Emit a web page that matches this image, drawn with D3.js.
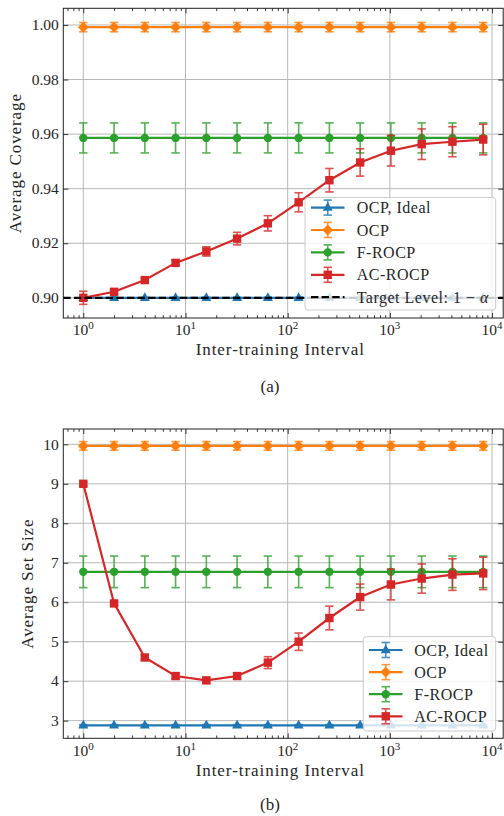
<!DOCTYPE html>
<html><head><meta charset="utf-8">
<script src="https://cdn.jsdelivr.net/npm/d3@7"></script>
<style>
body{margin:0;background:#fff}
svg{display:block}
text{font-family:"Liberation Serif","Times New Roman",serif;fill:#262626}
</style>
</head><body><svg id="c" width="504" height="816" font-family="Liberation Serif, serif"></svg>
<script>
// ---------------- data ----------------
const intervals = [1,2,4,8,16,32,64,128,256,512,1024,2048,4096,8192];
const seriesNames = ["OCP, Ideal","OCP","F-ROCP","AC-ROCP"];
const seriesColors = ["#1f77b4","#ff7f0e","#2ca02c","#d62728"];
const seriesMarkers = ["triangle","diamond","circle","square"];

// Panel (a): average coverage
const covIdeal    = [0.900,0.900,0.900,0.900,0.900,0.900,0.900,0.900,0.900,0.900,0.900,0.900,0.900,0.900];
const covIdealErr = [0.0002,0.0002,0.0002,0.0002,0.0002,0.0002,0.0002,0.0002,0.0002,0.0002,0.0002,0.0002,0.0002,0.0002];
const covOCP      = [0.9992,0.9992,0.9992,0.9992,0.9992,0.9992,0.9992,0.9992,0.9992,0.9992,0.9992,0.9992,0.9992,0.9992];
const covOCPErr   = [0.0017,0.0017,0.0017,0.0017,0.0017,0.0017,0.0017,0.0017,0.0017,0.0017,0.0017,0.0017,0.0017,0.0017];
const covFROCP    = [0.9586,0.9586,0.9586,0.9586,0.9586,0.9586,0.9586,0.9586,0.9586,0.9586,0.9586,0.9586,0.9586,0.9586];
const covFROCPErr = [0.0055,0.0055,0.0055,0.0055,0.0055,0.0055,0.0055,0.0055,0.0055,0.0055,0.0055,0.0055,0.0055,0.0055];
const covACROCP   = [0.9000,0.9022,0.9065,0.9128,0.9170,0.9217,0.9273,0.9350,0.9431,0.9496,0.9539,0.9563,0.9572,0.9580];
const covACROCPErr= [0.0024,0.0010,0.0008,0.0010,0.0017,0.0023,0.0028,0.0035,0.0043,0.0050,0.0056,0.0056,0.0055,0.0056];
const targetLevel = 0.90;
const covTicks = [0.90,0.92,0.94,0.96,0.98,1.00];
const covDomain = [0.8926,1.0061];

// Panel (b): average set size
const sizeIdeal    = [2.88,2.88,2.88,2.88,2.88,2.88,2.88,2.88,2.88,2.88,2.88,2.88,2.88,2.88];
const sizeIdealErr = [0.02,0.02,0.02,0.02,0.02,0.02,0.02,0.02,0.02,0.02,0.02,0.02,0.02,0.02];
const sizeOCP      = [9.96,9.96,9.96,9.96,9.96,9.96,9.96,9.96,9.96,9.96,9.96,9.96,9.96,9.96];
const sizeOCPErr   = [0.11,0.11,0.11,0.11,0.11,0.11,0.11,0.11,0.11,0.11,0.11,0.11,0.11,0.11];
const sizeFROCP    = [6.77,6.77,6.77,6.77,6.77,6.77,6.77,6.77,6.77,6.77,6.77,6.77,6.77,6.77];
const sizeFROCPErr = [0.40,0.40,0.40,0.40,0.40,0.40,0.40,0.40,0.40,0.40,0.40,0.40,0.40,0.40];
const sizeACROCP   = [9.00,5.97,4.60,4.13,4.02,4.13,4.47,5.00,5.60,6.13,6.45,6.60,6.70,6.73];
const sizeACROCPErr= [0.05,0.06,0.06,0.07,0.07,0.08,0.15,0.22,0.30,0.33,0.39,0.37,0.40,0.41];
const sizeTicks = [3,4,5,6,7,8,9,10];
const sizeDomain = [2.553,10.388];

const xMajorTicks = [1,10,100,1000,10000];

// ---------------- drawing ----------------
const svg = d3.select("#c");
const L = 63.3, R = 503.2;

const lo = Math.log10(d3.min(intervals)), hi = Math.log10(d3.max(intervals));
const pad = 0.05*(hi-lo);
const xDomain = [Math.pow(10, lo-pad), Math.pow(10, hi+pad)];

function markerPath(type){
  if(type==="triangle") return "M0,-5.6L5,3.2L-5,3.2Z";
  if(type==="diamond") return "M0,-5.4L5.4,0L0,5.4L-5.4,0Z";
  if(type==="circle") return d3.symbol(d3.symbolCircle, Math.PI*4.2*4.2)();
  return "M-4.2,-4.2L4.2,-4.2L4.2,4.2L-4.2,4.2Z";
}

function drawPanel(cfg){
  const g = svg.append("g");
  const x = d3.scaleLog().domain(xDomain).range([L,R]);
  const y = d3.scaleLinear().domain(cfg.domain).range([cfg.bottom,cfg.top]);

  // grid
  g.append("g").selectAll("line").data(xMajorTicks).join("line")
    .attr("x1",d=>x(d)).attr("x2",d=>x(d)).attr("y1",cfg.top).attr("y2",cfg.bottom)
    .attr("stroke","#b8b8b8").attr("stroke-width",1);
  g.append("g").selectAll("line").data(cfg.ticks).join("line")
    .attr("x1",L).attr("x2",R).attr("y1",d=>y(d)).attr("y2",d=>y(d))
    .attr("stroke","#b8b8b8").attr("stroke-width",1);

  // minor x ticks
  const minor = [];
  for(let k=-1;k<=4;k++) for(let m=2;m<=9;m++){ const v=m*Math.pow(10,k); if(v>xDomain[0]&&v<xDomain[1]) minor.push(v); }

  const fmtNone = ()=>"";
  const axB = g.append("g").attr("transform",`translate(0,${cfg.bottom})`)
    .call(d3.axisBottom(x).tickValues(xMajorTicks).tickSizeInner(-5).tickSizeOuter(0).tickFormat(fmtNone));
  const axBm = g.append("g").attr("transform",`translate(0,${cfg.bottom})`)
    .call(d3.axisBottom(x).tickValues(minor).tickSizeInner(-2.8).tickSizeOuter(0).tickFormat(fmtNone));
  const axT = g.append("g").attr("transform",`translate(0,${cfg.top})`)
    .call(d3.axisTop(x).tickValues(xMajorTicks).tickSizeInner(-5).tickSizeOuter(0).tickFormat(fmtNone));
  const axTm = g.append("g").attr("transform",`translate(0,${cfg.top})`)
    .call(d3.axisTop(x).tickValues(minor).tickSizeInner(-2.8).tickSizeOuter(0).tickFormat(fmtNone));
  const axL = g.append("g").attr("transform",`translate(${L},0)`)
    .call(d3.axisLeft(y).tickValues(cfg.ticks).tickSizeInner(-5).tickSizeOuter(0).tickFormat(fmtNone));
  const axR = g.append("g").attr("transform",`translate(${R},0)`)
    .call(d3.axisRight(y).tickValues(cfg.ticks).tickSizeInner(-5).tickSizeOuter(0).tickFormat(fmtNone));
  [axB,axBm,axT,axTm,axL,axR].forEach(a=>{
    a.select(".domain").remove();
    a.selectAll(".tick line").attr("stroke","#222").attr("stroke-width",0.9);
    a.selectAll(".tick text").remove();
  });

  // tick labels
  g.append("g").selectAll("text").data(cfg.ticks).join("text")
    .attr("x",L-4.5).attr("y",d=>y(d)+5.2).attr("text-anchor","end")
    .attr("font-size",15.5).text(d=>cfg.fmt(d));
  const xl = g.append("g").selectAll("text").data(xMajorTicks).join("text")
    .attr("x",d=>x(d)).attr("y",cfg.bottom+17.2).attr("text-anchor","middle").attr("font-size",15.5);
  xl.append("tspan").text("10");
  xl.append("tspan").attr("dy",-6).attr("font-size",11).text(d=>Math.round(Math.log10(d)));

  // axis titles
  g.append("text").attr("x",(L+R)/2 - 3).attr("y",cfg.bottom+37.3).attr("text-anchor","middle")
    .attr("font-size",17).attr("letter-spacing",0.95).text("Inter-training Interval");
  g.append("text").attr("transform",`translate(${cfg.ylabX},${(cfg.top+cfg.bottom)/2}) rotate(-90)`)
    .attr("text-anchor","middle").attr("font-size",17).attr("letter-spacing",0.9).text(cfg.ylabel);
  g.append("text").attr("x",270).attr("y",cfg.capY).attr("text-anchor","middle").attr("font-size",17).text(cfg.caption);

  // series
  const line = d3.line().x(d=>x(d[0])).y(d=>y(d[1]));
  cfg.series.forEach((s,i)=>{
    const pts = intervals.map((t,j)=>[t,s.v[j],s.e[j]]);
    const sg = g.append("g");
    const col = seriesColors[i];
    const eb = sg.append("g").attr("stroke",col).attr("stroke-width",1.6).attr("opacity",0.8);
    eb.selectAll("line.v").data(pts).join("line").attr("class","v")
      .attr("x1",d=>x(d[0])).attr("x2",d=>x(d[0])).attr("y1",d=>y(d[1]-d[2])).attr("y2",d=>y(d[1]+d[2]));
    eb.selectAll("line.c1").data(pts).join("line").attr("class","c1")
      .attr("x1",d=>x(d[0])-4.2).attr("x2",d=>x(d[0])+4.2).attr("y1",d=>y(d[1]-d[2])).attr("y2",d=>y(d[1]-d[2]));
    eb.selectAll("line.c2").data(pts).join("line").attr("class","c2")
      .attr("x1",d=>x(d[0])-4.2).attr("x2",d=>x(d[0])+4.2).attr("y1",d=>y(d[1]+d[2])).attr("y2",d=>y(d[1]+d[2]));
    sg.append("path").attr("d",line(pts)).attr("fill","none").attr("stroke",col).attr("stroke-width",2.2);
    sg.selectAll("path.m").data(pts).join("path").attr("class","m")
      .attr("d",markerPath(seriesMarkers[i])).attr("transform",d=>`translate(${x(d[0])},${y(d[1])})`)
      .attr("fill",col);
  });

  if(cfg.target!==undefined){
    g.append("line").attr("x1",L).attr("x2",R).attr("y1",y(cfg.target)).attr("y2",y(cfg.target))
      .attr("stroke","#000").attr("stroke-width",2.2).attr("stroke-dasharray","7.4,3.2");
  }

  // spines
  g.append("rect").attr("x",L).attr("y",cfg.top).attr("width",R-L).attr("height",cfg.bottom-cfg.top)
    .attr("fill","none").attr("stroke","#222").attr("stroke-width",1);

  // legend
  const lg = cfg.legend;
  const lgG = g.append("g");
  lgG.append("rect").attr("x",lg.x).attr("y",lg.y).attr("width",lg.w).attr("height",lg.h).attr("rx",3)
    .attr("fill","#fff").attr("fill-opacity",0.8).attr("stroke","#cccccc").attr("stroke-width",1);
  const entries = seriesNames.map((n,i)=>({name:n,i:i}));
  if(cfg.target!==undefined) entries.push({name:"target",i:-1});
  entries.forEach((e,k)=>{
    const cy = lg.y0 + k*lg.dy;
    const hx1 = lg.hx, hx2 = lg.hx+33.5, hc = (hx1+hx2)/2;
    if(e.i>=0){
      const col = seriesColors[e.i];
      lgG.append("line").attr("x1",hx1).attr("x2",hx2).attr("y1",cy).attr("y2",cy).attr("stroke",col).attr("stroke-width",2.2);
      const eg = lgG.append("g").attr("stroke",col).attr("stroke-width",1.6).attr("opacity",0.8);
      eg.append("line").attr("x1",hc).attr("x2",hc).attr("y1",cy-7.5).attr("y2",cy+7.5);
      eg.append("line").attr("x1",hc-4.2).attr("x2",hc+4.2).attr("y1",cy-7.5).attr("y2",cy-7.5);
      eg.append("line").attr("x1",hc-4.2).attr("x2",hc+4.2).attr("y1",cy+7.5).attr("y2",cy+7.5);
      lgG.append("path").attr("d",markerPath(seriesMarkers[e.i])).attr("transform",`translate(${hc},${cy})`).attr("fill",col);
      lgG.append("text").attr("x",lg.tx).attr("y",cy+5.6).attr("font-size",16).attr("letter-spacing",0.5).text(e.name);
    } else {
      lgG.append("line").attr("x1",hx1).attr("x2",hx2).attr("y1",cy).attr("y2",cy)
        .attr("stroke","#000").attr("stroke-width",2.2).attr("stroke-dasharray","7.4,3.2");
      const t = lgG.append("text").attr("x",lg.tx).attr("y",cy+5.6).attr("font-size",16).attr("letter-spacing",0.5);
      t.append("tspan").text("Target Level: 1 \u2212 ");
      t.append("tspan").attr("font-style","italic").text("\u03b1");
    }
  });
}

drawPanel({
  top:8.3, bottom:318, domain:covDomain, ticks:covTicks, fmt:d3.format(".2f"),
  ylabel:"Average Coverage", ylabX:21, caption:"(a)", capY:391.5, target:targetLevel,
  series:[{v:covIdeal,e:covIdealErr},{v:covOCP,e:covOCPErr},{v:covFROCP,e:covFROCPErr},{v:covACROCP,e:covACROCPErr}],
  legend:{x:305,y:197.5,w:190.7,h:112.5,y0:207.6,dy:22.4,hx:311,tx:356.7}
});
drawPanel({
  top:429, bottom:738.3, domain:sizeDomain, ticks:sizeTicks, fmt:d3.format("d"),
  ylabel:"Average Set Size", ylabX:33, caption:"(b)", capY:810, 
  series:[{v:sizeIdeal,e:sizeIdealErr},{v:sizeOCP,e:sizeOCPErr},{v:sizeFROCP,e:sizeFROCPErr},{v:sizeACROCP,e:sizeACROCPErr}],
  legend:{x:363.3,y:636.7,w:132.4,h:94.3,y0:650,dy:22.1,hx:369,tx:414.3}
});
</script>
</body></html>
